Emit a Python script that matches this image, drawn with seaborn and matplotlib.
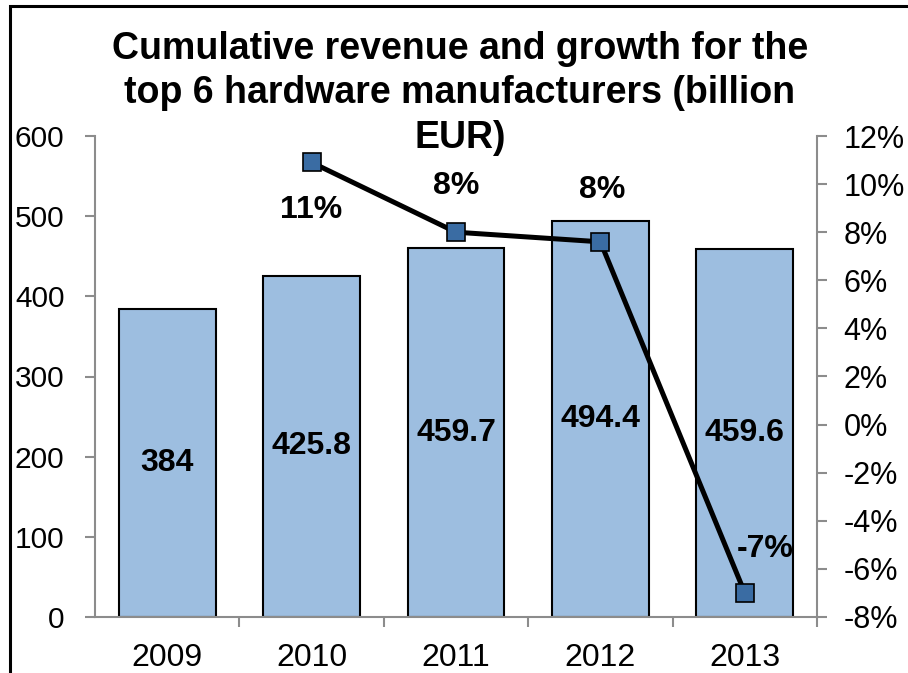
import matplotlib
matplotlib.use("Agg")
import matplotlib.pyplot as plt
import matplotlib.patches as mpatches
from matplotlib.ticker import PercentFormatter, FixedLocator
import seaborn as sns
import pandas as pd

# data
years = ["2009", "2010", "2011", "2012", "2013"]
revenue = [384, 425.8, 459.7, 494.4, 459.6]
growth = [None, 10.9, 8.0, 7.6, -7.0]
growth_labels = ["", "11%", "8%", "8%", "-7%"]

df = pd.DataFrame({"year": years, "revenue": revenue, "growth": growth})
df["pos"] = range(len(df))

sns.set_style("white")
plt.rcParams["font.family"] = ["Liberation Sans", "DejaVu Sans"]
plt.rcParams["axes.unicode_minus"] = False
plt.rcParams["text.color"] = "black"
plt.rcParams["xtick.color"] = "black"
plt.rcParams["ytick.color"] = "black"

fig = plt.figure(figsize=(9.08, 6.73), dpi=100)
ax = fig.add_axes([95 / 908, 1 - 617 / 673, 722 / 908, 481 / 673])

sns.barplot(data=df, x="year", y="revenue", color="#9DBEE0", saturation=1,
            width=0.67, edgecolor="black", linewidth=1.5, ax=ax)
ax.set_ylim(0, 600)
ax.set_xlim(-0.5, 4.5)
ax.set_yticks(range(0, 601, 100))
ax.set_xlabel("")
ax.set_ylabel("")

# bar value labels in the middle
for i, v in enumerate(revenue):
    ax.text(i, v / 2, f"{v:g}", ha="center", va="center", fontsize=23,
            fontweight="bold", color="black")

gray = "#8C8C8C"
for s in ["top", "right"]:
    ax.spines[s].set_visible(False)
for s in ["left", "bottom"]:
    ax.spines[s].set_color(gray)
    ax.spines[s].set_linewidth(1.5)
ax.tick_params(axis="y", direction="out", length=7, width=1.5, color=gray,
               labelsize=21.5, pad=15, left=True, labelcolor="black")
ax.tick_params(axis="x", which="major", length=0, labelsize=23, pad=19,
               labelcolor="black")
ax.xaxis.set_minor_locator(FixedLocator([0.5, 1.5, 2.5, 3.5, 4.5]))
ax.tick_params(axis="x", which="minor", direction="out", length=7, width=1.5,
               color=gray, bottom=True)

# growth line on the secondary axis
ax2 = ax.twinx()
sns.lineplot(data=df.dropna(), x="pos", y="growth", color="black",
             linewidth=3.6, marker="s", markersize=13,
             markerfacecolor="#3A6CA3", markeredgecolor="black",
             markeredgewidth=1.2, ax=ax2)
ax2.set_ylim(-8, 12)
ax2.set_xlim(-0.5, 4.5)
ax2.set_yticks(range(-8, 13, 2))
ax2.yaxis.set_major_formatter(PercentFormatter(decimals=0))
ax2.set_xlabel("")
ax2.set_ylabel("")
for s in ["top", "left", "bottom"]:
    ax2.spines[s].set_visible(False)
ax2.spines["right"].set_color(gray)
ax2.spines["right"].set_linewidth(1.5)
ax2.tick_params(axis="y", direction="out", length=7, width=1.5, color=gray,
                labelsize=22, pad=12, right=True, labelcolor="black")

offsets = {1: (0, -34), 2: (0, 33), 3: (1, 37), 4: (15, 32)}
for i, (g, lab) in enumerate(zip(growth, growth_labels)):
    if g is None:
        continue
    ax2.annotate(lab, (i, g), xytext=offsets[i], textcoords="offset points",
                 ha="center", va="center", fontsize=23, fontweight="bold",
                 color="black")

fig.suptitle("Cumulative revenue and growth for the\ntop 6 hardware manufacturers (billion\nEUR)",
             x=460 / 908, y=1 - 31 / 673, va="top", fontsize=27,
             fontweight="bold", linespacing=1.3, color="black")

# outer chart frame (cut at right and bottom as in the image)
fig.patches.append(mpatches.Rectangle((10 / 908, -0.1), 1.2, 1.1 - 6 / 673,
                                      transform=fig.transFigure, fill=False,
                                      edgecolor="black", linewidth=2.2))

fig.savefig("out.png", dpi=100)
